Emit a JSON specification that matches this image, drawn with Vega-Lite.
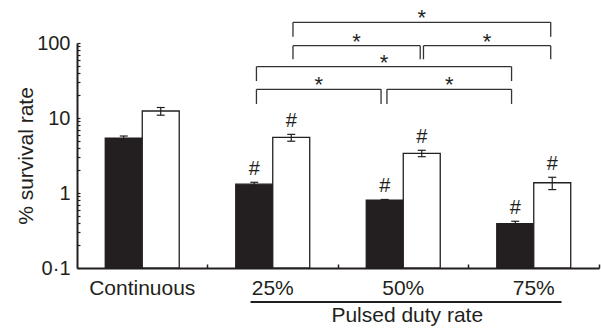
{
  "$schema": "https://vega.github.io/schema/vega-lite/v6.json",
  "width": 522,
  "height": 225,
  "autosize": {"type": "none"},
  "padding": {"left": 77, "top": 43, "right": 2, "bottom": 61},
  "background": "white",
  "config": {"view": {"stroke": null}, "font": "Liberation Sans", "axis": {"grid": false}},
  "datasets": {
    "bars": [
      {"group": "Continuous", "series": "black", "mean": 5.4, "lo": 5.05, "hi": 5.75, "note": ""},
      {"group": "Continuous", "series": "white", "mean": 12.4, "lo": 10.9, "hi": 13.8, "note": ""},
      {"group": "25%", "series": "black", "mean": 1.31, "lo": 1.23, "hi": 1.39, "note": "#"},
      {"group": "25%", "series": "white", "mean": 5.5, "lo": 4.9, "hi": 6.05, "note": "#"},
      {"group": "50%", "series": "black", "mean": 0.8, "lo": 0.78, "hi": 0.82, "note": "#"},
      {"group": "50%", "series": "white", "mean": 3.38, "lo": 3.05, "hi": 3.71, "note": "#"},
      {"group": "75%", "series": "black", "mean": 0.39, "lo": 0.36, "hi": 0.42, "note": "#"},
      {"group": "75%", "series": "white", "mean": 1.37, "lo": 1.11, "hi": 1.62, "note": "#"}
    ],
    "brackets": [
      {"series": "black", "from": "25%", "to": "50%", "level": 24.1, "leg": 15.4, "mark": "*"},
      {"series": "black", "from": "50%", "to": "75%", "level": 24.1, "leg": 15.4, "mark": "*"},
      {"series": "black", "from": "25%", "to": "75%", "level": 48.3, "leg": 31.1, "mark": "*"},
      {"series": "white", "from": "25%", "to": "50%", "level": 92, "leg": 60.6, "mark": "*"},
      {"series": "white", "from": "50%", "to": "75%", "level": 92, "leg": 60.6, "mark": "*"},
      {"series": "white", "from": "25%", "to": "75%", "level": 188.8, "leg": 121.3, "mark": "*"}
    ],
    "span": [
      {"label": "Pulsed duty rate", "from": "25%", "to": "75%", "mid": "50%"}
    ]
  },
  "layer": [
    {
      "data": {"name": "bars"},
      "mark": {"type": "bar", "stroke": "#231f20", "strokeWidth": 1.3},
      "encoding": {
        "x": {
          "field": "group", "type": "nominal",
          "scale": {"domain": ["Continuous", "25%", "50%", "75%"], "paddingInner": 0, "paddingOuter": 0},
          "axis": {
            "title": null, "bandPosition": 1, "tickSize": -4, "tickColor": "#231f20", "tickWidth": 1.5,
            "domainColor": "#231f20", "domainWidth": 2, "labelFontSize": 21, "labelColor": "#231f20",
            "labelPadding": 13, "labelAngle": 0
          }
        },
        "xOffset": {
          "field": "series", "type": "nominal",
          "scale": {"domain": ["black", "white"], "paddingInner": 0, "paddingOuter": 0.764}
        },
        "y": {
          "field": "mean", "type": "quantitative",
          "scale": {"type": "log", "domain": [0.1, 100], "nice": false},
          "axis": {
            "title": "% survival rate",
            "values": [0.1, 0.2, 0.3, 0.4, 0.5, 0.6, 0.7, 0.8, 0.9, 1, 2, 3, 4, 5, 6, 7, 8, 9, 10, 20, 30, 40, 50, 60, 70, 80, 90, 100],
            "labelExpr": "datum.value === 0.1 ? '0·1' : (datum.value === 1 || datum.value === 10 || datum.value === 100) ? format(datum.value, 'd') : ''",
            "labelOverlap": false, "labelFlush": false,
            "tickSize": -3, "tickColor": "#231f20", "tickWidth": 1.2,
            "domainColor": "#231f20", "domainWidth": 2,
            "labelFontSize": 20, "labelColor": "#231f20", "labelPadding": 10,
            "titleFontSize": 21, "titleFontWeight": "normal", "titleColor": "#231f20", "titlePadding": 0
          }
        },
        "y2": {"datum": 0.1},
        "fill": {
          "field": "series", "type": "nominal",
          "scale": {"domain": ["black", "white"], "range": ["#231f20", "#ffffff"]},
          "legend": null
        }
      }
    },
    {
      "data": {"name": "bars"},
      "mark": {"type": "rule", "color": "#231f20", "strokeWidth": 1.2},
      "encoding": {
        "x": {"field": "group", "type": "nominal"},
        "xOffset": {"field": "series", "type": "nominal"},
        "y": {"field": "lo", "type": "quantitative"},
        "y2": {"field": "hi"}
      }
    },
    {
      "data": {"name": "bars"},
      "mark": {"type": "tick", "orient": "horizontal", "size": 8, "thickness": 1.2, "color": "#231f20", "opacity": 1},
      "encoding": {
        "x": {"field": "group", "type": "nominal"},
        "xOffset": {"field": "series", "type": "nominal"},
        "y": {"field": "hi", "type": "quantitative"}
      }
    },
    {
      "data": {"name": "bars"},
      "mark": {"type": "tick", "orient": "horizontal", "size": 8, "thickness": 1.2, "color": "#231f20", "opacity": 1},
      "encoding": {
        "x": {"field": "group", "type": "nominal"},
        "xOffset": {"field": "series", "type": "nominal"},
        "y": {"field": "lo", "type": "quantitative"}
      }
    },
    {
      "data": {"name": "bars"},
      "transform": [{"filter": "datum.note !== ''"}],
      "mark": {"type": "text", "fontSize": 20, "baseline": "alphabetic", "dy": -7, "color": "#231f20"},
      "encoding": {
        "x": {"field": "group", "type": "nominal"},
        "xOffset": {"field": "series", "type": "nominal"},
        "y": {"field": "hi", "type": "quantitative"},
        "text": {"field": "note"}
      }
    },
    {
      "data": {"name": "brackets"},
      "transform": [{"filter": "datum.series === 'black'"}],
      "mark": {"type": "rule", "color": "#333333", "strokeWidth": 1.3},
      "encoding": {
        "x": {"field": "from", "type": "nominal", "bandPosition": 0.375},
        "x2": {"field": "to", "bandPosition": 0.33},
        "y": {"field": "level", "type": "quantitative"}
      }
    },
    {
      "data": {"name": "brackets"},
      "transform": [{"filter": "datum.series === 'black'"}],
      "mark": {"type": "rule", "color": "#333333", "strokeWidth": 1.3},
      "encoding": {
        "x": {"field": "from", "type": "nominal", "bandPosition": 0.375},
        "y": {"field": "level", "type": "quantitative"},
        "y2": {"field": "leg"}
      }
    },
    {
      "data": {"name": "brackets"},
      "transform": [{"filter": "datum.series === 'black'"}],
      "mark": {"type": "rule", "color": "#333333", "strokeWidth": 1.3},
      "encoding": {
        "x": {"field": "to", "type": "nominal", "bandPosition": 0.33},
        "y": {"field": "level", "type": "quantitative"},
        "y2": {"field": "leg"}
      }
    },
    {
      "data": {"name": "brackets"},
      "transform": [{"filter": "datum.series === 'white'"}],
      "mark": {"type": "rule", "color": "#333333", "strokeWidth": 1.3},
      "encoding": {
        "x": {"field": "from", "type": "nominal", "bandPosition": 0.655},
        "x2": {"field": "to", "bandPosition": 0.63},
        "y": {"field": "level", "type": "quantitative"}
      }
    },
    {
      "data": {"name": "brackets"},
      "transform": [{"filter": "datum.series === 'white'"}],
      "mark": {"type": "rule", "color": "#333333", "strokeWidth": 1.3},
      "encoding": {
        "x": {"field": "from", "type": "nominal", "bandPosition": 0.655},
        "y": {"field": "level", "type": "quantitative"},
        "y2": {"field": "leg"}
      }
    },
    {
      "data": {"name": "brackets"},
      "transform": [{"filter": "datum.series === 'white'"}],
      "mark": {"type": "rule", "color": "#333333", "strokeWidth": 1.3},
      "encoding": {
        "x": {"field": "to", "type": "nominal", "bandPosition": 0.63},
        "y": {"field": "level", "type": "quantitative"},
        "y2": {"field": "leg"}
      }
    },
    {
      "data": {"name": "brackets"},
      "transform": [{"filter": "datum.series === 'black' && !(datum.from === '25%' && datum.to === '75%')"}],
      "mark": {"type": "text", "fontSize": 22, "baseline": "alphabetic", "dy": 3, "color": "#231f20"},
      "encoding": {
        "x": {"field": "from", "type": "nominal", "bandPosition": 0.8525},
        "y": {"field": "level", "type": "quantitative"},
        "text": {"field": "mark"}
      }
    },
    {
      "data": {"name": "brackets"},
      "transform": [{"filter": "datum.series === 'black' && datum.from === '25%' && datum.to === '75%'"}],
      "mark": {"type": "text", "fontSize": 22, "baseline": "alphabetic", "dy": 3, "color": "#231f20"},
      "encoding": {
        "x": {"field": "from", "type": "nominal", "bandPosition": 1.3525},
        "y": {"field": "level", "type": "quantitative"},
        "text": {"field": "mark"}
      }
    },
    {
      "data": {"name": "brackets"},
      "transform": [{"filter": "datum.series === 'white' && !(datum.from === '25%' && datum.to === '75%')"}],
      "mark": {"type": "text", "fontSize": 22, "baseline": "alphabetic", "dy": 3, "color": "#231f20"},
      "encoding": {
        "x": {"field": "from", "type": "nominal", "bandPosition": 1.1425},
        "y": {"field": "level", "type": "quantitative"},
        "text": {"field": "mark"}
      }
    },
    {
      "data": {"name": "brackets"},
      "transform": [{"filter": "datum.series === 'white' && datum.from === '25%' && datum.to === '75%'"}],
      "mark": {"type": "text", "fontSize": 22, "baseline": "alphabetic", "dy": 3, "color": "#231f20"},
      "encoding": {
        "x": {"field": "from", "type": "nominal", "bandPosition": 1.6425},
        "y": {"field": "level", "type": "quantitative"},
        "text": {"field": "mark"}
      }
    },
    {
      "data": {"name": "span"},
      "mark": {"type": "rule", "color": "#231f20", "strokeWidth": 2.2},
      "encoding": {
        "x": {"field": "from", "type": "nominal", "bandPosition": 0.33},
        "x2": {"field": "to", "bandPosition": 0.713},
        "y": {"datum": 0.0352, "type": "quantitative"}
      }
    },
    {
      "data": {"name": "span"},
      "mark": {"type": "text", "fontSize": 21, "baseline": "alphabetic", "dx": 4, "color": "#231f20"},
      "encoding": {
        "x": {"field": "mid", "type": "nominal"},
        "y": {"datum": 0.019, "type": "quantitative"},
        "text": {"field": "label"}
      }
    }
  ]
}
